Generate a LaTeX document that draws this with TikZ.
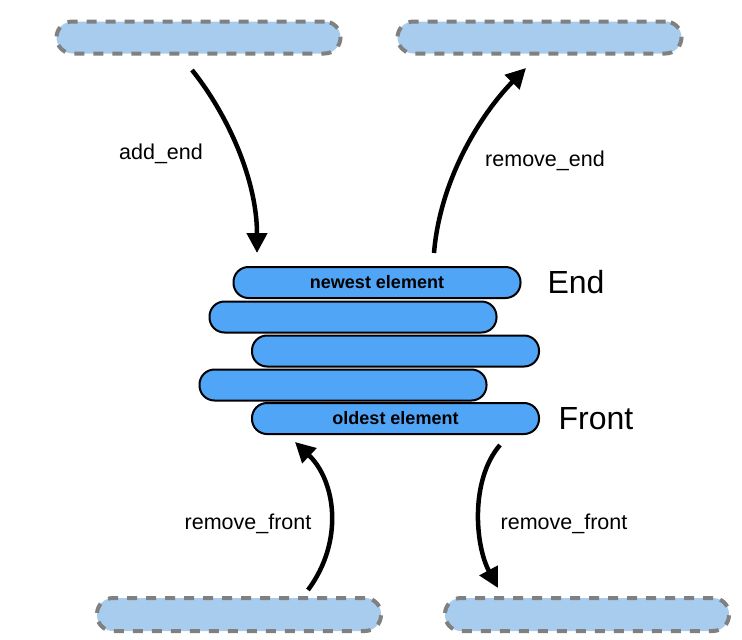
\documentclass[tikz,border=0pt]{standalone}
\usepackage{fontspec}
\setmainfont{Liberation Sans}
\usetikzlibrary{arrows.meta}
\definecolor{stackblue}{RGB}{80,165,247}
\definecolor{ghostblue}{RGB}{168,204,238}
\definecolor{dashgray}{RGB}{128,128,128}
\tikzset{
  elem/.style={draw=black, line width=2pt, fill=stackblue, rounded corners=15pt,
    minimum height=31pt, minimum width=287pt, inner sep=0pt,
    font=\fontsize{18}{21}\selectfont\bfseries},
  ghost/.style={draw=dashgray, line width=4pt, fill=ghostblue, rounded corners=16pt,
    dash pattern=on 10pt off 9pt, minimum height=32pt, minimum width=284pt, inner sep=0pt},
  flow/.style={line width=4.5pt, -{Triangle[length=20pt,width=20pt]}},
  lbl/.style={font=\fontsize{21.5}{25}\selectfont, inner sep=0pt},
  side/.style={font=\fontsize{32}{38}\selectfont, inner sep=0pt}
}
\begin{document}
\begin{tikzpicture}[x=1pt,y=-1pt]
\useasboundingbox (0,0) rectangle (742,640);
% ghost boxes
\node[ghost] (tl) at (198.5,37.5) {};
\node[ghost] (tr) at (539.5,37.5) {};
\node[ghost, minimum height=33pt] (bl) at (239,614.5) {};
\node[ghost, minimum height=33pt] (br) at (587,614.5) {};
% stack
\node[elem] (b1) at (377,282.5) {newest element};
\node[elem] (b2) at (353,317) {};
\node[elem] (b3) at (395.5,351) {};
\node[elem] (b4) at (343,385) {};
\node[elem] (b5) at (395.5,418.5) {oldest element};
% side labels
\node[side] (endl) at (576,282) {End};
\node[side] (frontl) at (596,419) {Front};
% arrow endpoints
\coordinate (a1s) at (192,70);
\coordinate (a1e) at (257,253);
\coordinate (a2s) at (434,253);
\coordinate (a2e) at (526,68);
\coordinate (a3s) at (308,590);
\coordinate (a3e) at (295,442);
\coordinate (a4s) at (500,445);
\coordinate (a4e) at (498,588);
\draw[flow] (a1s) .. controls (228,115) and (257,180) .. (a1e);
\draw[flow] (a2s) .. controls (440,180) and (480,115) .. (a2e);
\draw[flow] (a3s) .. controls (345,540) and (335,480) .. (a3e);
\draw[flow] (a4s) .. controls (470,480) and (475,545) .. (a4e);
% arrow labels
\node[lbl] (l1) at (161,154) {add\_end};
\node[lbl] (l2) at (545,161) {remove\_end};
\node[lbl] (l3) at (248,524) {remove\_front};
\node[lbl] (l4) at (564,524) {remove\_front};
\end{tikzpicture}
\end{document}
